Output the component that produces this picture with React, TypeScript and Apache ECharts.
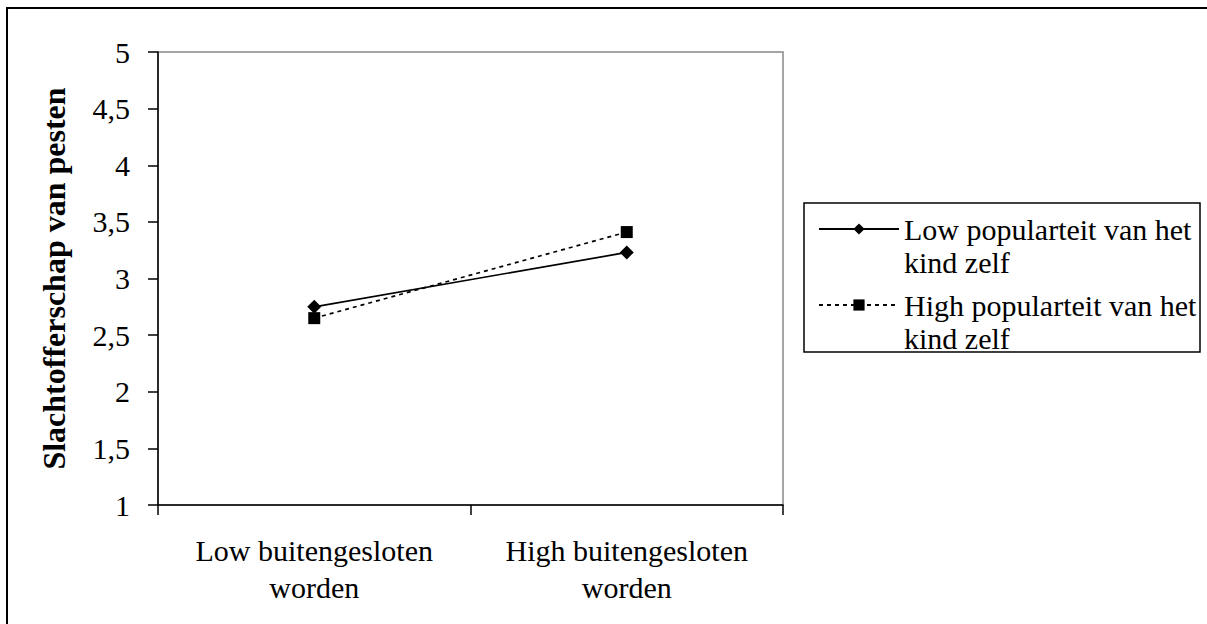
import React, { useEffect, useRef } from "react";
import * as echarts from "echarts";

const categories = ["Low buitengesloten\nworden", "High buitengesloten\nworden"];
const seriesNames = ["Low popularteit van het\nkind zelf", "High popularteit van het\nkind zelf"];
const lowPopularity = [2.75, 3.23];
const highPopularity = [2.65, 3.41];
const yTitle = "Slachtofferschap van pesten";

const FONT = "'Liberation Serif', 'Times New Roman', serif";

export default function App() {
  const ref = useRef<HTMLDivElement>(null);
  useEffect(() => {
    if (!ref.current) return;
    const chart = echarts.init(ref.current, null, { renderer: "svg" });
    chart.setOption({
      animation: false,
      backgroundColor: "#ffffff",
      textStyle: { fontFamily: FONT, color: "#000" },
      grid: {
        left: 158,
        right: 424,
        top: 52,
        bottom: 119,
        show: true,
        borderColor: "#888888",
        borderWidth: 1.5,
        backgroundColor: "transparent",
      },
      graphic: [
        {
          type: "rect",
          shape: { x: 7, y: 8, width: 1220, height: 640 },
          style: { fill: "none", stroke: "#000", lineWidth: 2 },
          silent: true,
        },
        {
          type: "rect",
          shape: { x: 804, y: 203, width: 396, height: 149 },
          style: { fill: "none", stroke: "#000", lineWidth: 1.5 },
          silent: true,
        },
      ],
      legend: {
        orient: "vertical",
        left: 818,
        top: 179.5,
        padding: 0,
        itemWidth: 80,
        itemHeight: 14,
        itemGap: -23,
        selectedMode: false,
        data: seriesNames,
        formatter: (name: string) => "\n" + name,
        textStyle: {
          fontFamily: FONT,
          fontSize: 30,
          lineHeight: 33,
          color: "#000",
        },
      },
      xAxis: {
        type: "category",
        data: categories,
        boundaryGap: true,
        axisLine: { lineStyle: { color: "#000", width: 1.5 } },
        axisTick: { show: true, length: 10, inside: false, lineStyle: { color: "#000", width: 1.5 } },
        axisLabel: {
          interval: 0,
          fontFamily: FONT,
          fontSize: 30,
          lineHeight: 37,
          color: "#000",
          margin: 27,
        },
        splitLine: { show: false },
      },
      yAxis: {
        type: "value",
        min: 1,
        max: 5,
        interval: 0.5,
        name: yTitle,
        nameLocation: "middle",
        nameRotate: 90,
        nameGap: 88,
        nameTextStyle: { fontFamily: FONT, fontSize: 32, fontWeight: "bold", color: "#000" },
        axisLine: { show: true, lineStyle: { color: "#000", width: 1.5 } },
        axisTick: { show: true, length: 10, inside: false, lineStyle: { color: "#000", width: 1.5 } },
        axisLabel: {
          fontFamily: FONT,
          fontSize: 30,
          color: "#000",
          margin: 28,
          formatter: (v: number) => String(v).replace(".", ","),
        },
        splitLine: { show: false },
      },
      series: [
        {
          name: seriesNames[0],
          type: "line",
          data: lowPopularity,
          symbol: "diamond",
          symbolSize: 14,
          itemStyle: { color: "#000" },
          lineStyle: { color: "#000", width: 1.7, type: "solid" },
        },
        {
          name: seriesNames[1],
          type: "line",
          data: highPopularity,
          symbol: "rect",
          symbolSize: 12,
          itemStyle: { color: "#000" },
          lineStyle: { color: "#000", width: 1.7, type: [4, 4] },
        },
      ],
    });
    return () => chart.dispose();
  }, []);
  return (
    <div style={{ position: "fixed", left: 0, top: 0, width: 1207, height: 624, overflow: "hidden" }}>
      <div ref={ref} style={{ width: 1207, height: 624 }} />
    </div>
  );
}
